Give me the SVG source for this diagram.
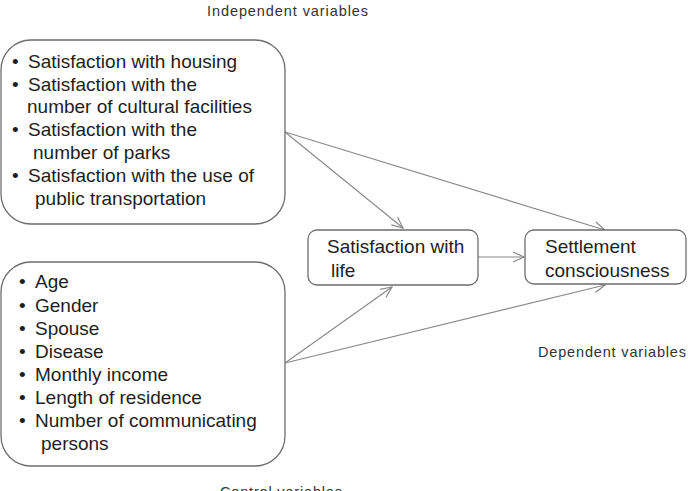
<svg xmlns="http://www.w3.org/2000/svg" width="688" height="491" viewBox="0 0 688 491">
<style>
.box{fill:#fff;stroke:#6e6e6e;stroke-width:1.3}
.t{font-family:"Liberation Sans",Arial,sans-serif;font-size:19px;fill:#1e1e1e}
.lbl{font-family:"Liberation Sans",Arial,sans-serif;font-size:14.5px;fill:#333}
.c{stroke:#8a8a8a;stroke-width:1.2;fill:none;marker-end:url(#ah)}
</style>
<defs>
<marker id="ah" markerWidth="14" markerHeight="12" refX="12" refY="6" orient="auto" markerUnits="userSpaceOnUse">
<path d="M1,1 L12,6 L1,11" fill="none" stroke="#8a8a8a" stroke-width="1.2"/>
</marker>
</defs>
<rect width="688" height="491" fill="#fff"/>
<text class="lbl" x="207" y="16" textLength="161" lengthAdjust="spacing">Independent  variables</text>
<text class="lbl" x="538" y="357" textLength="148" lengthAdjust="spacing">Dependent variables</text>
<text class="lbl" x="220" y="497" textLength="122" lengthAdjust="spacing">Control variables</text>
<g id="connectors">
<line class="c" x1="285" y1="132" x2="403" y2="228"/>
<line class="c" x1="285" y1="132" x2="605" y2="230"/>
<line class="c" x1="285" y1="363" x2="392" y2="287"/>
<line class="c" x1="285" y1="363" x2="605" y2="285"/>
<line class="c" x1="478" y1="257" x2="524" y2="257"/>
</g>
<g id="independent">
<rect class="box" x="1" y="40" width="284" height="184" rx="30"/>
<text class="t">
<tspan x="12" y="68">•</tspan><tspan x="28" y="68">Satisfaction with housing</tspan>
<tspan x="12" y="91">•</tspan><tspan x="28" y="91">Satisfaction with the</tspan>
<tspan x="27" y="113">number of cultural   facilities</tspan>
<tspan x="12" y="136">•</tspan><tspan x="28" y="136">Satisfaction with the</tspan>
<tspan x="33" y="159">number of parks</tspan>
<tspan x="12" y="182">•</tspan><tspan x="28" y="182">Satisfaction with the use of</tspan>
<tspan x="35" y="205">public transportation</tspan>
</text>
</g>
<g id="control">
<rect class="box" x="1" y="262" width="284" height="204" rx="30"/>
<text class="t">
<tspan x="19" y="288">•</tspan><tspan x="35" y="288">Age</tspan>
<tspan x="19" y="312">•</tspan><tspan x="35" y="312">Gender</tspan>
<tspan x="19" y="335">•</tspan><tspan x="35" y="335">Spouse</tspan>
<tspan x="19" y="358">•</tspan><tspan x="35" y="358">Disease</tspan>
<tspan x="19" y="381">•</tspan><tspan x="35" y="381">Monthly income</tspan>
<tspan x="19" y="404">•</tspan><tspan x="35" y="404">Length of residence</tspan>
<tspan x="19" y="427">•</tspan><tspan x="35" y="427">Number of communicating</tspan>
<tspan x="41" y="450">persons</tspan>
</text>
</g>
<g id="life">
<rect class="box" x="308" y="230" width="170" height="55" rx="9"/>
<text class="t"><tspan x="327" y="253">Satisfaction with</tspan><tspan x="331" y="277">life</tspan></text>
</g>
<g id="settlement">
<rect class="box" x="525" y="230" width="161" height="54" rx="9"/>
<text class="t"><tspan x="545" y="253">Settlement</tspan><tspan x="545" y="277">consciousness</tspan></text>
</g>
</svg>
